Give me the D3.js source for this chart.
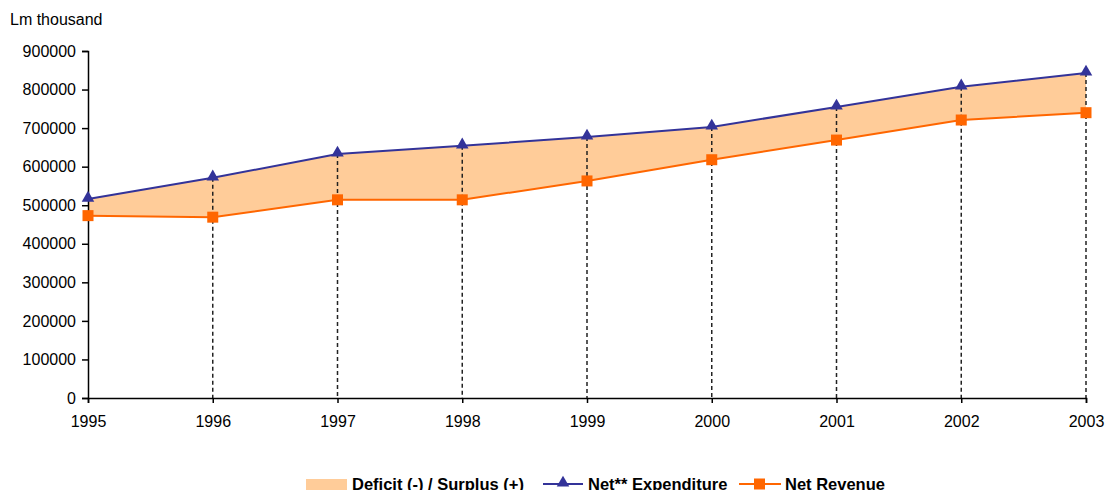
<!DOCTYPE html>
<html><head><meta charset="utf-8">
<script src="https://cdn.jsdelivr.net/npm/d3@7"></script>
<style>body{margin:0;background:#fff;font-family:"Liberation Sans",Arial,sans-serif}</style>
</head><body><svg id="c" width="1106" height="490"></svg>
<script>
const years = [1995,1996,1997,1998,1999,2000,2001,2002,2003];
const expenditure = [516000,571000,633000,654000,677000,703000,755000,807000,843000];
const revenue = [473000,469000,514000,514000,563000,618000,669000,721000,740000];
const yTicks = [0,100000,200000,300000,400000,500000,600000,700000,800000,900000];
const legendLabels = ["Deficit (-) / Surplus (+)","Net** Expenditure","Net Revenue"];

const FONT = "Liberation Sans, Arial, sans-serif";
const svg = d3.select("#c");
const x = d3.scaleLinear().domain([1995,2003]).range([88,1086]);
const y = d3.scaleLinear().domain([0,900000]).range([398,51]);
const data = years.map((yr,i)=>({yr,e:expenditure[i],r:revenue[i]}));

svg.append("path").datum(data)
  .attr("d", d3.area().x(d=>x(d.yr)).y0(d=>y(d.r)).y1(d=>y(d.e)))
  .attr("fill","#FFCC99");

// drop lines
svg.selectAll("line.drop").data(data.slice(1)).enter().append("line")
  .attr("x1",d=>x(d.yr)).attr("x2",d=>x(d.yr))
  .attr("y1",d=>y(d.e)).attr("y2",y(0))
  .attr("stroke","#222").attr("stroke-width",1.5).attr("stroke-dasharray","4,3");

// axes
const ya = svg.append("g").attr("transform","translate(88,0)")
  .call(d3.axisLeft(y).tickValues(yTicks).tickFormat(d3.format("d")).tickSize(6).tickPadding(6));
const xa = svg.append("g").attr("transform","translate(0,398)")
  .call(d3.axisBottom(x).tickValues(years).tickFormat(d3.format("d")).tickSize(5).tickPadding(13));
[ya,xa].forEach(g=>{
  g.select(".domain").attr("stroke","#000").attr("stroke-width",1.5);
  g.selectAll(".tick line").attr("stroke","#000").attr("stroke-width",1.5);
  g.selectAll("text").attr("font-family",FONT).attr("font-size",16).attr("fill","#000");
});

// lines
svg.append("path").datum(data).attr("fill","none").attr("stroke","#FF6600").attr("stroke-width",2)
  .attr("d", d3.line().x(d=>x(d.yr)).y(d=>y(d.r)));
svg.append("path").datum(data).attr("fill","none").attr("stroke","#333399").attr("stroke-width",2)
  .attr("d", d3.line().x(d=>x(d.yr)).y(d=>y(d.e)));

const tri = d3.symbol().type(d3.symbolTriangle).size(68);
svg.selectAll("path.tri").data(data).enter().append("path")
  .attr("d",tri).attr("transform",d=>`translate(${x(d.yr)},${y(d.e)-1})`).attr("fill","#333399");
svg.selectAll("rect.sq").data(data).enter().append("rect")
  .attr("x",d=>x(d.yr)-5.5).attr("y",d=>y(d.r)-5.5).attr("width",11).attr("height",11).attr("fill","#FF6600");

svg.append("text").attr("x",10).attr("y",25).attr("font-family",FONT).attr("font-size",16).text("Lm thousand");

// legend
const lg = svg.append("g").attr("font-family",FONT).attr("font-size",16.5).attr("font-weight","bold");
lg.append("rect").attr("x",306).attr("y",479).attr("width",41).attr("height",12).attr("fill","#FFCC99");
lg.append("text").attr("x",352).attr("y",489.5).text(legendLabels[0]);
lg.append("line").attr("x1",543).attr("x2",583).attr("y1",484).attr("y2",484).attr("stroke","#333399").attr("stroke-width",2);
lg.append("path").attr("d",tri).attr("transform","translate(563,483)").attr("fill","#333399");
lg.append("text").attr("x",588).attr("y",489.5).text(legendLabels[1]);
lg.append("line").attr("x1",739).attr("x2",781).attr("y1",484).attr("y2",484).attr("stroke","#FF6600").attr("stroke-width",2);
lg.append("rect").attr("x",754).attr("y",478.5).attr("width",11).attr("height",11).attr("fill","#FF6600");
lg.append("text").attr("x",785).attr("y",489.5).text(legendLabels[2]);
</script></body></html>
